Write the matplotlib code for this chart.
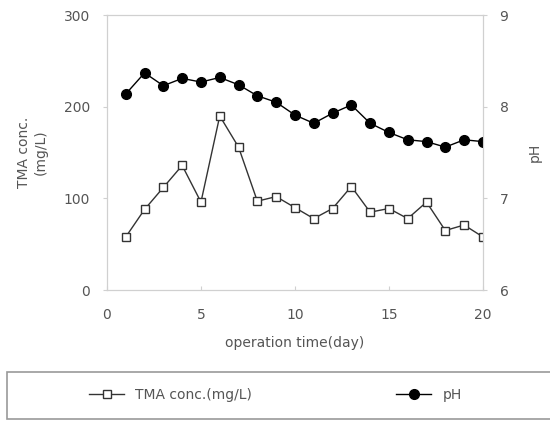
import numpy as np
import matplotlib.pyplot as plt
from matplotlib.patches import Rectangle

# data
days = np.arange(1, 21)
tma = [58, 88, 112, 136, 96, 190, 156, 97, 102, 90, 78, 89, 113, 85, 89, 78, 96, 65, 71, 58]
ph = [8.14, 8.37, 8.23, 8.31, 8.27, 8.32, 8.24, 8.12, 8.05, 7.91, 7.82, 7.93, 8.02, 7.82,
      7.72, 7.64, 7.62, 7.56, 7.64, 7.62]

txt = '#555555'
grid = '#d0d0d0'

fig = plt.figure(figsize=(5.5, 4.21), dpi=100)
ax = fig.add_axes([0.1945, 0.311, 0.6835, 0.653])
ax2 = ax.twinx()

l1, = ax.plot(days, tma, color='#333333', lw=1, marker='s', markersize=6,
              markerfacecolor='white', markeredgecolor='#333333', markeredgewidth=1,
              label='TMA conc.(mg/L)')
l2, = ax2.plot(days, ph, color='black', lw=1, marker='o', markersize=7,
               markerfacecolor='black', label='pH')

ax.set_xlim(0, 20)
ax.set_ylim(0, 300)
ax2.set_ylim(6, 9)
ax.set_xticks([0, 5, 10, 15, 20])
ax.set_yticks([0, 100, 200, 300])
ax2.set_yticks([6, 7, 8, 9])

for a in (ax, ax2):
    for s in a.spines.values():
        s.set_color(grid)
    a.tick_params(colors=grid, labelcolor=txt, labelsize=10, length=3, pad=9)
ax.tick_params(axis='x', direction='in', pad=13)

ax.set_xlabel('operation time(day)', color=txt, fontsize=10, labelpad=10)
ax.set_ylabel('TMA conc.\n(mg/L)', color=txt, fontsize=10, labelpad=12)
ax2.set_ylabel('pH', color=txt, fontsize=10, labelpad=14)

# legend box at the bottom
fig.patches.append(Rectangle((0.013, 0.005), 1.0, 0.112, transform=fig.transFigure,
                             facecolor='white', edgecolor='#999999', lw=1.2))
leg1 = fig.legend(handles=[l1], loc='center', bbox_to_anchor=(0.31, 0.062),
                  frameon=False, fontsize=10, handlelength=2.5)
leg2 = fig.legend(handles=[l2], loc='center', bbox_to_anchor=(0.78, 0.062),
                  frameon=False, fontsize=10, handlelength=2.5)
for lg in (leg1, leg2):
    for t in lg.get_texts():
        t.set_color(txt)

plt.savefig('out.png', dpi=100)
